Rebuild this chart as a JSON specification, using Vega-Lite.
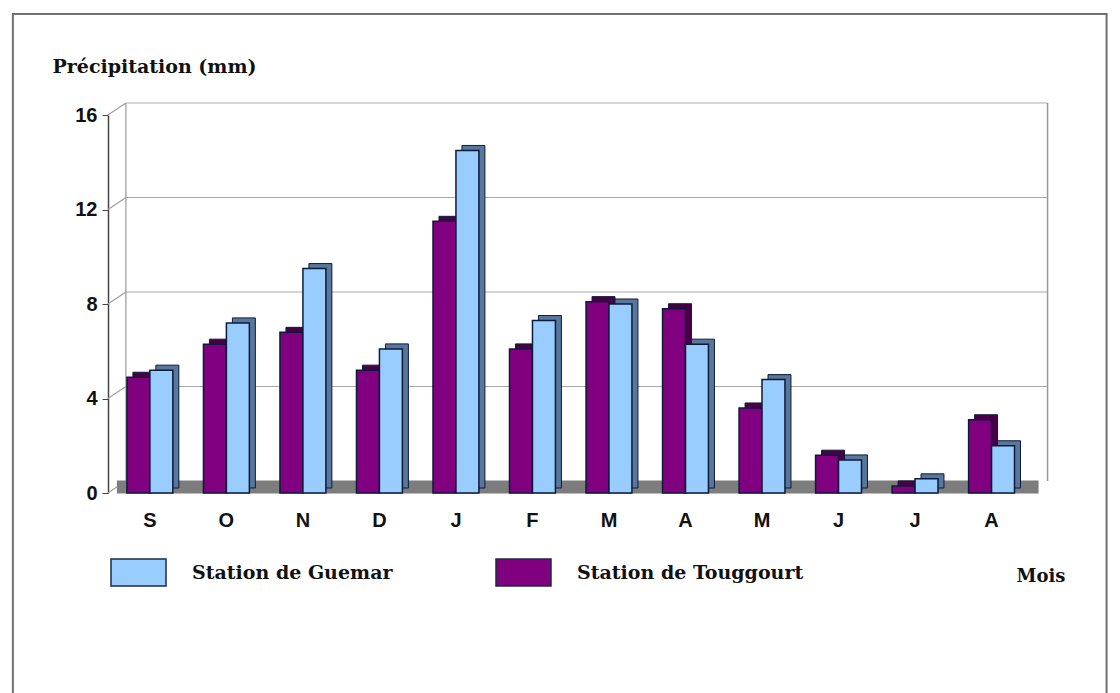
{
  "$schema": "https://vega.github.io/schema/vega-lite/v6.json",
  "width": 922,
  "height": 378,
  "autosize": "none",
  "padding": {"left": 108, "top": 115, "right": 90, "bottom": 200},
  "background": "white",
  "config": {"view": {"stroke": null}, "font": "Liberation Sans"},
  "datasets": {
    "pluie": [
      {"mois": "Sep", "station": "Station de Touggourt", "p": 4.9},
      {"mois": "Oct", "station": "Station de Touggourt", "p": 6.3},
      {"mois": "Nov", "station": "Station de Touggourt", "p": 6.8},
      {"mois": "Déc", "station": "Station de Touggourt", "p": 5.2},
      {"mois": "Jan", "station": "Station de Touggourt", "p": 11.5},
      {"mois": "Fév", "station": "Station de Touggourt", "p": 6.1},
      {"mois": "Mar", "station": "Station de Touggourt", "p": 8.1},
      {"mois": "Avr", "station": "Station de Touggourt", "p": 7.8},
      {"mois": "Mai", "station": "Station de Touggourt", "p": 3.6},
      {"mois": "Juin", "station": "Station de Touggourt", "p": 1.6},
      {"mois": "Juil", "station": "Station de Touggourt", "p": 0.3},
      {"mois": "Août", "station": "Station de Touggourt", "p": 3.1},
      {"mois": "Sep", "station": "Station de Guemar", "p": 5.2},
      {"mois": "Oct", "station": "Station de Guemar", "p": 7.2},
      {"mois": "Nov", "station": "Station de Guemar", "p": 9.5},
      {"mois": "Déc", "station": "Station de Guemar", "p": 6.1},
      {"mois": "Jan", "station": "Station de Guemar", "p": 14.5},
      {"mois": "Fév", "station": "Station de Guemar", "p": 7.3},
      {"mois": "Mar", "station": "Station de Guemar", "p": 8.0},
      {"mois": "Avr", "station": "Station de Guemar", "p": 6.3},
      {"mois": "Mai", "station": "Station de Guemar", "p": 4.8},
      {"mois": "Juin", "station": "Station de Guemar", "p": 1.4},
      {"mois": "Juil", "station": "Station de Guemar", "p": 0.6},
      {"mois": "Août", "station": "Station de Guemar", "p": 2.0}
    ],
    "grille": [{"v": 4}, {"v": 8}, {"v": 12}, {"v": 16}],
    "paroi": [{"v": 0}, {"v": 4}, {"v": 8}, {"v": 12}, {"v": 16}],
    "cadre": [{"bas": 0, "haut": 16}]
  },
  "resolve": {"scale": {"color": "independent", "xOffset": "independent"}},
  "layer": [
    {
      "data": {"name": "pluie"},
      "mark": {"type": "bar"},
      "encoding": {
        "x": {
          "field": "mois", "type": "nominal", "sort": null,
          "scale": {"paddingInner": 0.4, "paddingOuter": 0.225, "align": 0.55},
          "axis": {
            "labelExpr": "substring(datum.label, 0, 1)",
            "labelAngle": 0,
            "labelFont": "Liberation Sans", "labelFontWeight": "bold", "labelFontSize": 20,
            "labelColor": "#111", "labelPadding": 17,
            "ticks": false, "domain": false,
            "title": "Mois",
            "titleFont": "DejaVu Serif", "titleFontWeight": "bold", "titleFontSize": 18,
            "titleColor": "#111", "titleAlign": "right", "titleBaseline": "middle",
            "titleX": 957, "titleY": 83
          }
        },
        "xOffset": {
          "field": "station", "type": "nominal",
          "sort": ["Station de Touggourt", "Station de Guemar"],
          "scale": {"paddingInner": 0}
        },
        "y": {
          "field": "p", "type": "quantitative",
          "scale": {"domain": [0, 16]},
          "axis": {
            "values": [0, 4, 8, 12, 16],
            "grid": false,
            "labelFont": "Liberation Sans", "labelFontWeight": "bold", "labelFontSize": 20,
            "labelColor": "#111", "labelPadding": 5,
            "tickSize": 6, "tickColor": "#444", "domainColor": "#444", "domainWidth": 1.5,
            "title": "Précipitation (mm)",
            "titleFont": "DejaVu Serif", "titleFontWeight": "bold", "titleFontSize": 19,
            "titleColor": "#111", "titleAngle": 0, "titleAlign": "left", "titleBaseline": "middle",
            "titleX": -56, "titleY": -49
          }
        },
        "color": {
          "field": "station", "type": "nominal",
          "scale": {"domain": ["Station de Guemar", "Station de Touggourt"], "range": ["#99ccff", "#800080"]},
          "legend": null
        },
        "opacity": {"value": 0}
      }
    },
    {
      "data": {"name": "cadre"},
      "mark": {"type": "rule", "color": "#707070", "strokeWidth": 2, "xOffset": -137, "yOffset": -101, "y2Offset": 210},
      "encoding": {
        "x": {"datum": "Sep", "type": "nominal"},
        "y": {"field": "haut", "type": "quantitative"},
        "y2": {"field": "bas"}
      }
    },
    {
      "data": {"name": "cadre"},
      "mark": {"type": "rule", "color": "#707070", "strokeWidth": 2, "xOffset": 115, "yOffset": -101, "y2Offset": 210},
      "encoding": {
        "x": {"datum": "Août", "type": "nominal"},
        "y": {"field": "haut", "type": "quantitative"},
        "y2": {"field": "bas"}
      }
    },
    {
      "data": {"name": "cadre"},
      "mark": {"type": "rule", "color": "#707070", "strokeWidth": 2, "xOffset": -138, "x2Offset": 116, "yOffset": -101, "y2Offset": -101},
      "encoding": {
        "x": {"datum": "Sep", "type": "nominal"},
        "x2": {"datum": "Août"},
        "y": {"field": "haut", "type": "quantitative"},
        "y2": {"field": "haut"}
      }
    },
    {
      "data": {"name": "grille"},
      "mark": {"type": "rule", "color": "#a9a9a9", "strokeWidth": 1.2, "xOffset": -24, "x2Offset": 56, "yOffset": -12, "y2Offset": -12},
      "encoding": {
        "x": {"datum": "Sep", "type": "nominal"},
        "x2": {"datum": "Août"},
        "y": {"field": "v", "type": "quantitative"},
        "y2": {"field": "v"}
      }
    },
    {
      "data": {"name": "paroi"},
      "mark": {"type": "rule", "color": "#a0a0a0", "strokeWidth": 1.2, "xOffset": -42, "x2Offset": -24, "y2Offset": -12},
      "encoding": {
        "x": {"datum": "Sep", "type": "nominal"},
        "x2": {"datum": "Sep"},
        "y": {"field": "v", "type": "quantitative"},
        "y2": {"field": "v"}
      }
    },
    {
      "data": {"name": "cadre"},
      "mark": {"type": "rule", "color": "#9a9a9a", "strokeWidth": 1.2, "xOffset": -24, "yOffset": -12, "y2Offset": -12},
      "encoding": {
        "x": {"datum": "Sep", "type": "nominal"},
        "y": {"field": "bas", "type": "quantitative"},
        "y2": {"field": "haut"}
      }
    },
    {
      "data": {"name": "cadre"},
      "mark": {"type": "rule", "color": "#9a9a9a", "strokeWidth": 1.5, "xOffset": 56, "yOffset": -12, "y2Offset": -12},
      "encoding": {
        "x": {"datum": "Août", "type": "nominal"},
        "y": {"field": "bas", "type": "quantitative"},
        "y2": {"field": "haut"}
      }
    },
    {
      "data": {"name": "cadre"},
      "mark": {"type": "rule", "color": "#7d7d7d", "strokeWidth": 13, "xOffset": -33, "x2Offset": 47, "yOffset": -6, "y2Offset": -6},
      "encoding": {
        "x": {"datum": "Sep", "type": "nominal"},
        "x2": {"datum": "Août"},
        "y": {"field": "bas", "type": "quantitative"},
        "y2": {"field": "bas"}
      }
    },
    {
      "data": {"name": "pluie"},
      "mark": {"type": "bar", "yOffset": -5, "y2Offset": -5, "stroke": "#0d1b3a", "strokeWidth": 1},
      "encoding": {
        "x": {"field": "mois", "type": "nominal", "sort": null},
        "xOffset": {
          "field": "station", "type": "nominal",
          "sort": ["Station de Touggourt", "Station de Guemar"],
          "scale": {"paddingInner": 0, "range": [6, 51.9]}
        },
        "y": {"field": "p", "type": "quantitative"},
        "color": {
          "field": "station", "type": "nominal",
          "scale": {"domain": ["Station de Guemar", "Station de Touggourt"], "range": ["#58779a", "#4a0046"]},
          "legend": null
        }
      }
    },
    {
      "data": {"name": "pluie"},
      "mark": {"type": "bar", "stroke": "#0d1b3a", "strokeWidth": 1.5},
      "encoding": {
        "x": {"field": "mois", "type": "nominal", "sort": null},
        "xOffset": {
          "field": "station", "type": "nominal",
          "sort": ["Station de Touggourt", "Station de Guemar"],
          "scale": {"paddingInner": 0}
        },
        "y": {"field": "p", "type": "quantitative"},
        "color": {
          "field": "station", "type": "nominal",
          "scale": {"domain": ["Station de Guemar", "Station de Touggourt"], "range": ["#99ccff", "#800080"]},
          "legend": {
            "title": null, "orient": "none", "direction": "horizontal",
            "legendX": 2, "legendY": 429,
            "symbolType": "M-1,-0.49H1V0.49H-1Z", "symbolSize": 3025,
            "symbolStrokeColor": "#1c2a44", "symbolStrokeWidth": 1.5, "symbolOpacity": 1,
            "labelFont": "DejaVu Serif", "labelFontWeight": "bold", "labelFontSize": 19,
            "labelColor": "#111", "labelOffset": 25, "labelLimit": 400,
            "columnPadding": 100
          }
        }
      }
    }
  ]
}
